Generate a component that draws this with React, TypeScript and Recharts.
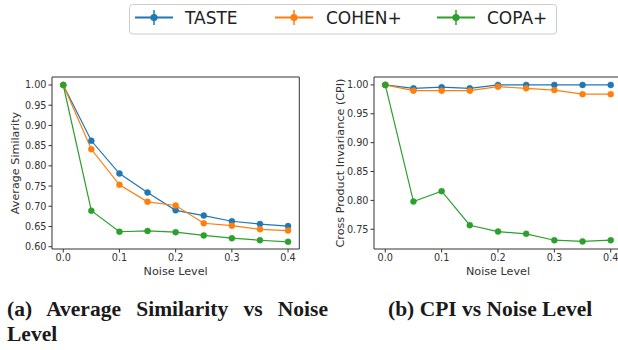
import React from "react";
import { LineChart, Line, XAxis, YAxis, ReferenceArea } from "recharts";

const noiseLevels = [0, 0.05, 0.1, 0.15, 0.2, 0.25, 0.3, 0.35, 0.4];
const xTicks = [0, 0.1, 0.2, 0.3, 0.4];

// (a) average similarity
const tasteSim = [1.0, 0.862, 0.781, 0.734, 0.69, 0.677, 0.663, 0.656, 0.651];
const cohenSim = [1.0, 0.841, 0.753, 0.711, 0.702, 0.658, 0.652, 0.643, 0.64];
const copaSim = [1.0, 0.689, 0.637, 0.639, 0.636, 0.628, 0.621, 0.616, 0.612];
const simTicks = [0.6, 0.65, 0.7, 0.75, 0.8, 0.85, 0.9, 0.95, 1.0];

// (b) cross product invariance
const tasteCpi = [1.0, 0.994, 0.996, 0.994, 1.0, 1.0, 1.0, 1.0, 1.0];
const cohenCpi = [1.0, 0.99, 0.99, 0.99, 0.997, 0.994, 0.991, 0.984, 0.984];
const copaCpi = [1.0, 0.798, 0.816, 0.757, 0.746, 0.742, 0.731, 0.729, 0.731];
const cpiTicks = [0.75, 0.8, 0.85, 0.9, 0.95, 1.0];

const seriesNames = ["TASTE", "COHEN+", "COPA+"];
const colors = ["#1f77b4", "#ff7f0e", "#2ca02c"];

const FONT = "DejaVu Sans";
const X_DOMAIN: [number, number] = [-0.02, 0.42];

type Row = { x: number; s0: number; s1: number; s2: number };

const buildRows = (a: number[], b: number[], c: number[]): Row[] =>
  noiseLevels.map((x, i) => ({ x, s0: a[i], s1: b[i], s2: c[i] }));

type PanelProps = {
  rows: Row[];
  width: number;
  yAxisWidth: number;
  marginRight: number;
  yDomain: [number, number];
  yTicks: number[];
  yLabel: string;
  yLabelOffset: number;
};

function Panel({
  rows,
  width,
  yAxisWidth,
  marginRight,
  yDomain,
  yTicks,
  yLabel,
  yLabelOffset,
}: PanelProps) {
  const tickStyle = { fontSize: 9.7, fill: "#333", fontFamily: FONT };
  return (
    <LineChart
      width={width}
      height={290}
      data={rows}
      margin={{ top: 77, right: marginRight, bottom: 0, left: 0 }}
    >
      <XAxis
        dataKey="x"
        type="number"
        domain={X_DOMAIN}
        ticks={xTicks}
        interval={0}
        allowDataOverflow
        tickFormatter={(v: number) => v.toFixed(1)}
        axisLine={false}
        tickLine={{ stroke: "#333" }}
        tickSize={3.5}
        tickMargin={1.6}
        height={41}
        tick={tickStyle}
        label={{
          value: "Noise Level",
          position: "insideBottom",
          offset: 15,
          fontSize: 11.2,
          fill: "#333",
          fontFamily: FONT,
        }}
      />
      <YAxis
        type="number"
        domain={yDomain}
        ticks={yTicks}
        interval={0}
        allowDataOverflow
        tickFormatter={(v: number) => v.toFixed(2)}
        axisLine={false}
        tickLine={{ stroke: "#333" }}
        tickSize={3.5}
        tickMargin={2}
        width={yAxisWidth}
        tick={tickStyle}
        label={{
          value: yLabel,
          angle: -90,
          position: "insideLeft",
          offset: yLabelOffset,
          fontSize: 11.2,
          fill: "#333",
          fontFamily: FONT,
          style: { textAnchor: "middle" },
        }}
      />
      <ReferenceArea
        x1={X_DOMAIN[0]}
        x2={X_DOMAIN[1]}
        y1={yDomain[0]}
        y2={yDomain[1]}
        fill="none"
        stroke="#333"
        strokeWidth={1}
      />
      {["s0", "s1", "s2"].map((key, i) => (
        <Line
          key={key}
          dataKey={key}
          stroke={colors[i]}
          strokeWidth={1.2}
          dot={{ r: 3, fill: colors[i], stroke: colors[i], strokeWidth: 0.5 }}
          isAnimationActive={false}
          type="linear"
        />
      ))}
    </LineChart>
  );
}

// legend entry positions: [line start, line end, text x]
const legendSlots = [
  [135, 173, 185],
  [275, 313, 326],
  [437, 475, 487],
];

function TopLegend() {
  return (
    <svg width={618} height={40} style={{ position: "absolute", left: 0, top: 0 }}>
      <rect x={129.5} y={4.5} width={427} height={29.5} rx={3} fill="#fff" stroke="#ccc" />
      {seriesNames.map((name, i) => {
        const [x1, x2, tx] = legendSlots[i];
        const mid = (x1 + x2) / 2;
        return (
          <g key={name}>
            <line x1={x1} x2={x2} y1={17.5} y2={17.5} stroke={colors[i]} strokeWidth={2} />
            <line x1={mid} x2={mid} y1={10} y2={25} stroke={colors[i]} strokeWidth={1.5} />
            <circle cx={mid} cy={17.5} r={3.6} fill={colors[i]} />
            <text x={tx} y={24} fontSize={17} fontFamily={FONT} fill="#222">
              {name}
            </text>
          </g>
        );
      })}
    </svg>
  );
}

const captionStyle: React.CSSProperties = {
  position: "absolute",
  top: 297,
  fontFamily: "Liberation Serif",
  fontWeight: "bold",
  fontSize: 21.5,
  lineHeight: "25px",
  color: "#1a1a1a",
};

export default function App() {
  const simRows = buildRows(tasteSim, cohenSim, copaSim);
  const cpiRows = buildRows(tasteCpi, cohenCpi, copaCpi);
  return (
    <div
      style={{
        position: "fixed",
        left: 0,
        top: 0,
        width: 618,
        height: 350,
        overflow: "hidden",
        background: "#fff",
      }}
    >
      <TopLegend />
      <div style={{ position: "absolute", left: 0, top: 0 }}>
        <Panel
          rows={simRows}
          width={310}
          yAxisWidth={52}
          marginRight={10.7}
          yDomain={[0.5943, 1.0198]}
          yTicks={simTicks}
          yLabel="Average Similarity"
          yLabelOffset={15.5}
        />
      </div>
      <div style={{ position: "absolute", left: 310, top: 0 }}>
        <Panel
          rows={cpiRows}
          width={320}
          yAxisWidth={64}
          marginRight={8}
          yDomain={[0.7158, 1.0137]}
          yTicks={cpiTicks}
          yLabel="Cross Product Invariance (CPI)"
          yLabelOffset={30}
        />
      </div>
      <div style={{ ...captionStyle, left: 7, width: 321, textAlign: "justify" }}>
        (a) Average Similarity vs Noise Level
      </div>
      <div style={{ ...captionStyle, left: 388, whiteSpace: "nowrap" }}>
        (b) CPI vs Noise Level
      </div>
    </div>
  );
}
